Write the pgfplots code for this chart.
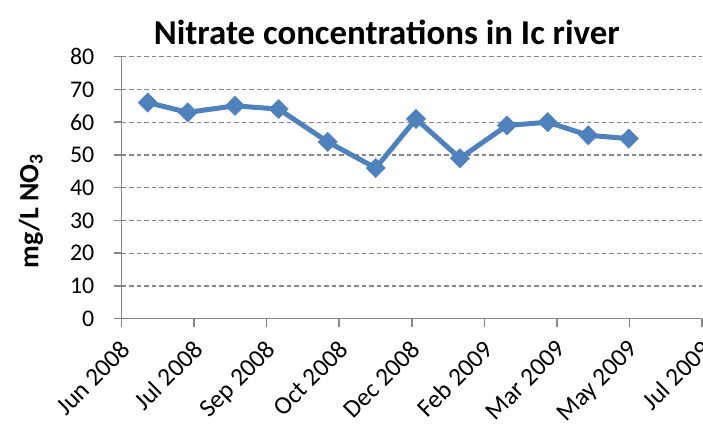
\documentclass[border=0pt]{standalone}
\usepackage{pgfplots}
\pgfplotsset{compat=1.18}
\usepackage{fontspec}
\setmainfont{Carlito}
\definecolor{exblue}{HTML}{4F81BD}
\definecolor{exgray}{HTML}{868686}
\begin{document}
\begin{tikzpicture}[x=1bp,y=1bp]
\useasboundingbox (0,0) rectangle (703,423);
\begin{axis}[
  at={(121.5bp,104.3bp)}, anchor=south west,
  scale only axis, width=580.5bp, height=262bp,
  xmin=0, xmax=8, ymin=0, ymax=80,
  xtick={0,1,2,3,4,5,6,7,8},
  xticklabels={Jun 2008,Jul 2008,Sep 2008,Oct 2008,Dec 2008,Feb 2009,Mar 2009,May 2009,Jul 2009},
  ytick={0,10,...,80},
  axis lines=left, axis line style={exgray, line width=1.5pt, -},
  tick style={exgray, line width=1.5pt},
  tick align=outside, major tick length=8bp,
  ymajorgrids, grid style={exgray, dash pattern=on 4.5bp off 3bp, line width=1.3pt},
  /pgf/number format/assume math mode=true,
  tick label style={font=\fontsize{24}{28}\selectfont, text=black},
  xticklabel style={font=\fontsize{25.5}{30}\selectfont, rotate=45, anchor=north east, inner sep=0bp, xshift=-10bp, yshift=-7bp},
  yticklabel style={inner sep=0bp, xshift=-19bp},
  title={\bfseries Nitrate concentrations in Ic river},
  title style={font=\fontsize{35}{40}\selectfont\bfseries, at={(0.457,1)}, anchor=south, yshift=2bp},
  ylabel={\bfseries mg/L NO\textsubscript{3}},
  ylabel style={font=\fontsize{28}{32}\selectfont\bfseries, at={(axis description cs:-0.156,0.411)}, anchor=center, rotate=0},
  clip=false,
]
\addplot[exblue, line width=5bp, mark=square*, mark size=6.8bp, mark options={rotate=45, fill=exblue, draw=exblue, line width=0.5pt}]
coordinates {
(0.361,66) (0.912,63) (1.564,65) (2.166,64) (2.842,54) (3.503,46)
(4.059,61) (4.664,49) (5.312,59) (5.874,60) (6.433,56) (6.990,55)
};
\end{axis}
\end{tikzpicture}
\end{document}
